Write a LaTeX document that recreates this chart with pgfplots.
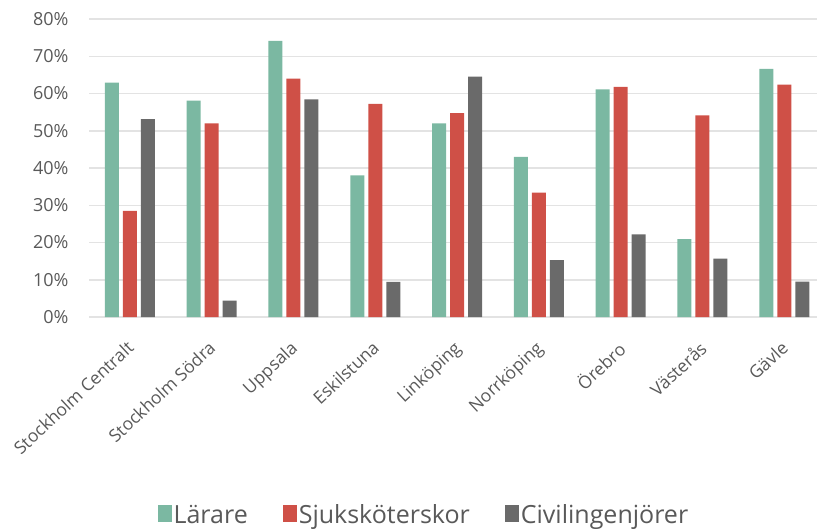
\documentclass[border=0pt]{standalone}
\usepackage{fontspec}
\setmainfont{Open Sans}
\usepackage{pgfplots}
\usepackage{pgfplotstable}
\pgfplotsset{compat=1.18}

\definecolor{cgreen}{HTML}{7BB8A2}
\definecolor{cred}{HTML}{CF5047}
\definecolor{cgray}{HTML}{6A6A6A}
\definecolor{ctext}{HTML}{595959}
\definecolor{cgrid}{HTML}{E3E3E3}

% share per station, in percent
\pgfplotstableread{
x larare sjuk civ
0 62.9 28.5 53.1
1 58.1 52.0 4.4
2 74.1 64.0 58.4
3 38.0 57.2 9.4
4 52.0 54.7 64.5
5 43.0 33.4 15.3
6 61.1 61.8 22.2
7 20.9 54.1 15.7
8 66.6 62.4 9.5
}\datatable

\begin{document}
\begin{tikzpicture}
\useasboundingbox (-89bp,-212bp) rectangle (728bp,317bp);
\begin{axis}[
    at={(0,0)}, anchor=south west,
    scale only axis,
    width=728bp, height=298bp,
    ybar=4bp, bar width=14bp,
    xmin=-0.5, xmax=8.4,
    ymin=0, ymax=80,
    ytick={0,10,...,80},
    yticklabel={\pgfmathprintnumber{\tick}\%},
    /pgf/number format/assume math mode=true,
    xtick=data,
    xticklabels={Stockholm Centralt, Stockholm Södra, Uppsala, Eskilstuna, Linköping, Norrköping, Örebro, Västerås, Gävle},
    x tick label style={xshift=-4bp, yshift=-18bp, rotate=43, anchor=north east, font=\fontsize{17.5bp}{21bp}\selectfont, text=ctext},
    y tick label style={font=\fontsize{18bp}{21bp}\selectfont, text=ctext, xshift=-17bp},
    major tick length=0pt,
    axis line style={draw=none},
    ymajorgrids=true,
    grid style={cgrid, line width=1.5bp},
    clip=false,
    legend style={at={(0.46,-0.664)}, anchor=center, draw=none,
        font=\fontsize{25bp}{29bp}\selectfont, text=ctext,
        /tikz/every even column/.append style={column sep=33bp}},
    legend columns=-1,
    legend image code/.code={\fill[#1] (0bp,-7bp) rectangle (14bp,10bp);},
]
\addplot[fill=cgreen, draw=none] table[x=x, y=larare] {\datatable};
\addplot[fill=cred, draw=none] table[x=x, y=sjuk] {\datatable};
\addplot[fill=cgray, draw=none] table[x=x, y=civ] {\datatable};
\legend{Lärare, Sjuksköterskor, Civilingenjörer}
\end{axis}
\end{tikzpicture}
\end{document}
